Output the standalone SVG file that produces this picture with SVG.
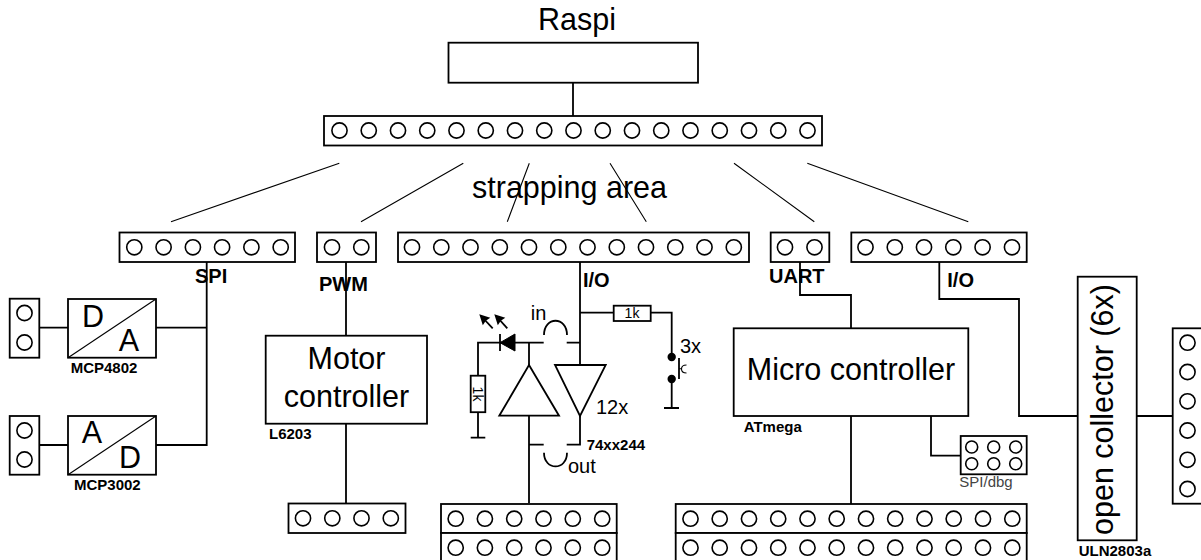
<svg xmlns="http://www.w3.org/2000/svg" width="1201" height="560" viewBox="0 0 1201 560">
<style>
text{font-family:"Liberation Sans",Arial,sans-serif;fill:#000}
.box{fill:#fff;stroke:#000;stroke-width:1.8}
.pin{fill:#fff;stroke:#000;stroke-width:1.6}
.w{fill:none;stroke:#000;stroke-width:1.8}
.t{fill:none;stroke:#000;stroke-width:1.1}
.big{font-size:30.5px}
.mid{font-size:20px}
.lab{font-size:20px;font-weight:bold}
.small{font-size:15px;font-weight:bold}
.m{text-anchor:middle}
</style>
<defs>
<circle id="p" r="7.6" class="pin"/>
<circle id="q" r="6" class="pin"/>
<path id="ah" d="M0 0 L11 3.5 L6.5 6.5 L3.5 11Z" fill="#000"/>
</defs>
<g id="connectors">
<path class="w" d="M573 83V116"/>
<path class="t" d="M339.3 163.3L171 221.7M463.3 163.3L361 221.7M529.3 163.3L507.3 221.7M610 163.3L646.3 221.7M734 163.3L814.3 221.7M807.3 163.3L968.3 221.7"/>
<path class="w" d="M206.7 262V445H156M156 327.7H206.7M39.3 327.7H68M39.3 445H68"/>
<path class="w" d="M346 262V336M346 424V503"/>
<path class="w" d="M580 262V365M580 312.7H613.7M650.7 312.7H671.7V357M671.7 379V408M664 408H679"/>
<path class="w" d="M580 416V444.7H566.7M543.7 444.7H529M529 416V503"/>
<path class="w" d="M580 342.7H566.7M543.7 342.7H478V376M478 412V437.7M470.7 437.7H485.3M529 342.7V365"/>
<path class="w" d="M544 335C544 316 567 316 567 335M544 452.7C544 471 567 471 567 452.7"/>
<path class="w" d="M800 262V295H851V328.3M939.3 262V299H1019V416H1077.7M1136.7 416H1172.7M851 416V504M931 416V455.7H960.7"/>
</g>
<g id="raspi"><rect class="box" x="448.5" y="42.7" width="249.5" height="40"/><text class="big m" x="577" y="30">Raspi</text></g>
<g id="top-header"><rect class="box" x="324" y="116" width="498" height="29.5"/>
<g id="top-pins"><use href="#p" x="339.5" y="130.5"/><use href="#p" x="368.75" y="130.5"/><use href="#p" x="398" y="130.5"/><use href="#p" x="427.25" y="130.5"/><use href="#p" x="456.5" y="130.5"/><use href="#p" x="485.75" y="130.5"/><use href="#p" x="515" y="130.5"/><use href="#p" x="544.25" y="130.5"/><use href="#p" x="573.5" y="130.5"/><use href="#p" x="602.75" y="130.5"/><use href="#p" x="632" y="130.5"/><use href="#p" x="661.25" y="130.5"/><use href="#p" x="690.5" y="130.5"/><use href="#p" x="719.75" y="130.5"/><use href="#p" x="749" y="130.5"/><use href="#p" x="778.25" y="130.5"/><use href="#p" x="807.5" y="130.5"/></g></g>
<text id="strapping" class="big" x="472" y="198">strapping area</text>
<g id="spi-header"><rect class="box" x="119.5" y="232.5" width="175.5" height="29.5"/><use href="#p" x="134.3" y="247.3"/><use href="#p" x="163.6" y="247.3"/><use href="#p" x="192.9" y="247.3"/><use href="#p" x="222.1" y="247.3"/><use href="#p" x="251.4" y="247.3"/><use href="#p" x="280.7" y="247.3"/><text class="lab" x="195" y="283">SPI</text></g>
<g id="pwm-header"><rect class="box" x="317" y="232.5" width="59" height="29.5"/><use href="#p" x="332" y="247.3"/><use href="#p" x="361.3" y="247.3"/><text class="lab" x="319" y="291">PWM</text></g>
<g id="io-header"><rect class="box" x="398" y="232.5" width="351" height="29.5"/><use href="#p" x="412" y="247.3"/><use href="#p" x="441.3" y="247.3"/><use href="#p" x="470.5" y="247.3"/><use href="#p" x="499.8" y="247.3"/><use href="#p" x="529" y="247.3"/><use href="#p" x="558.3" y="247.3"/><use href="#p" x="587.5" y="247.3"/><use href="#p" x="616.8" y="247.3"/><use href="#p" x="646" y="247.3"/><use href="#p" x="675.3" y="247.3"/><use href="#p" x="704.5" y="247.3"/><use href="#p" x="733.8" y="247.3"/><text class="lab" x="583" y="287">I/O</text></g>
<g id="uart-header"><rect class="box" x="770.7" y="232.5" width="58.6" height="29.5"/><use href="#p" x="785" y="247.3"/><use href="#p" x="814.5" y="247.3"/><text class="lab" x="769" y="283">UART</text></g>
<g id="io2-header"><rect class="box" x="851.3" y="232.5" width="175.4" height="29.5"/><use href="#p" x="865.5" y="247.3"/><use href="#p" x="894.8" y="247.3"/><use href="#p" x="924" y="247.3"/><use href="#p" x="953.3" y="247.3"/><use href="#p" x="982.6" y="247.3"/><use href="#p" x="1012" y="247.3"/><text class="lab" x="947.3" y="287">I/O</text></g>
<g id="da-header"><rect class="box" x="9.7" y="298.7" width="29.6" height="59"/><use href="#p" x="24.5" y="313"/><use href="#p" x="24.5" y="342.5"/></g>
<g id="ad-header"><rect class="box" x="9.7" y="416" width="29.6" height="58.7"/><use href="#p" x="24.5" y="430.5"/><use href="#p" x="24.5" y="459.5"/></g>
<g id="da"><rect class="box" x="68" y="299" width="88" height="58.7"/><path class="t" d="M68 357.7L156 299"/><text class="big m" x="93" y="326.7">D</text><text class="big m" x="129" y="351">A</text><text class="small" x="70.7" y="373">MCP4802</text></g>
<g id="ad"><rect class="box" x="68" y="416" width="88" height="58.7"/><path class="t" d="M68 474.7L156 416"/><text class="big m" x="92" y="443">A</text><text class="big m" x="130" y="468">D</text><text class="small" x="74" y="490">MCP3002</text></g>
<g id="motor"><rect class="box" x="265.7" y="335.7" width="161.3" height="88"/><text class="big m" x="346.5" y="369">Motor</text><text class="big m" x="346.5" y="406.7">controller</text><text class="small" x="269" y="439">L6203</text></g>
<g id="motor-header"><rect class="box" x="288.5" y="503.5" width="117" height="29.5"/><use href="#p" x="303" y="518.3"/><use href="#p" x="332.3" y="518.3"/><use href="#p" x="361.5" y="518.3"/><use href="#p" x="390.8" y="518.3"/></g>
<g id="io-circuit">
<path d="M515 334V351L500 342.7Z" fill="#000" stroke="#000"/><path class="w" d="M500 334V351"/>
<use href="#ah" x="479.3" y="314.3"/><path class="w" d="M483 318L492.7 328.3"/>
<use href="#ah" x="494.3" y="314.3"/><path class="w" d="M498 318L507.3 328.3"/>
<rect class="box" x="470.7" y="375.7" width="14.6" height="36.5"/><text font-size="14" class="m" transform="translate(472.7 394) rotate(90)">1k</text>
<rect class="box" x="613.7" y="305.7" width="37" height="15.3"/><text x="632" y="318" font-size="14" class="m">1k</text>
<path class="box" d="M529 365L559 415.7H499.3Z"/>
<path class="box" d="M555 365H605.7L580 416Z"/>
<circle cx="671.7" cy="357" r="4.2" fill="#000"/><circle cx="671.7" cy="379" r="4.2" fill="#000"/>
<path class="w" d="M679 358V379"/>
<path class="t" d="M679 368.7H682M686.5 365C683 365 681.5 367 681.5 369C681.5 371 683 373 686.5 373"/>
<text class="mid" x="530.7" y="320">in</text><text class="mid" x="568" y="472.7">out</text><text class="mid" x="680" y="353">3x</text><text class="mid" x="596" y="414">12x</text><text class="small" x="586.7" y="450">74xx244</text>
</g>
<g id="micro"><rect class="box" x="733.7" y="328.3" width="234.6" height="87.7"/><text class="big m" x="851" y="380">Micro controller</text><text class="small" x="743.7" y="431.7">ATmega</text></g>
<g id="dbg"><rect class="box" x="960.7" y="436" width="66" height="38.3"/><use href="#q" x="971.7" y="447"/><use href="#q" x="993.7" y="447"/><use href="#q" x="1015.7" y="447"/><use href="#q" x="971.7" y="463.7"/><use href="#q" x="993.7" y="463.7"/><use href="#q" x="1015.7" y="463.7"/><text x="959.3" y="486.7" font-size="15" style="fill:#444">SPI/dbg</text></g>
<g id="open-collector"><rect class="box" x="1077.7" y="276.7" width="59" height="263.6"/><text class="big" transform="translate(1112.7 535) rotate(-90)">open collector (6x)</text><text class="small" x="1078.7" y="555.7">ULN2803a</text></g>
<g id="out-header"><rect class="box" x="1172.7" y="328.3" width="30" height="175.4"/><use href="#p" x="1187.5" y="342.7"/><use href="#p" x="1187.5" y="372"/><use href="#p" x="1187.5" y="401.3"/><use href="#p" x="1187.5" y="430.5"/><use href="#p" x="1187.5" y="459.8"/><use href="#p" x="1187.5" y="489"/></g>
<g id="bottom-left"><rect class="box" x="441" y="504" width="175.7" height="29"/><rect class="box" x="441" y="533" width="175.7" height="29"/><use href="#p" x="455.7" y="518.7"/><use href="#p" x="484.9" y="518.7"/><use href="#p" x="514.2" y="518.7"/><use href="#p" x="543.5" y="518.7"/><use href="#p" x="572.8" y="518.7"/><use href="#p" x="602.2" y="518.7"/><use href="#p" x="455.7" y="547.7"/><use href="#p" x="484.9" y="547.7"/><use href="#p" x="514.2" y="547.7"/><use href="#p" x="543.5" y="547.7"/><use href="#p" x="572.8" y="547.7"/><use href="#p" x="602.2" y="547.7"/></g>
<g id="bottom-right"><rect class="box" x="675.7" y="504" width="351" height="29"/><rect class="box" x="675.7" y="533" width="351" height="29"/><use href="#p" x="690.5" y="518.7"/><use href="#p" x="719.7" y="518.7"/><use href="#p" x="749" y="518.7"/><use href="#p" x="778.2" y="518.7"/><use href="#p" x="807.5" y="518.7"/><use href="#p" x="836.7" y="518.7"/><use href="#p" x="866" y="518.7"/><use href="#p" x="895.2" y="518.7"/><use href="#p" x="924.5" y="518.7"/><use href="#p" x="953.7" y="518.7"/><use href="#p" x="983" y="518.7"/><use href="#p" x="1012.3" y="518.7"/><use href="#p" x="690.5" y="547.7"/><use href="#p" x="719.7" y="547.7"/><use href="#p" x="749" y="547.7"/><use href="#p" x="778.2" y="547.7"/><use href="#p" x="807.5" y="547.7"/><use href="#p" x="836.7" y="547.7"/><use href="#p" x="866" y="547.7"/><use href="#p" x="895.2" y="547.7"/><use href="#p" x="924.5" y="547.7"/><use href="#p" x="953.7" y="547.7"/><use href="#p" x="983" y="547.7"/><use href="#p" x="1012.3" y="547.7"/></g>
</svg>
